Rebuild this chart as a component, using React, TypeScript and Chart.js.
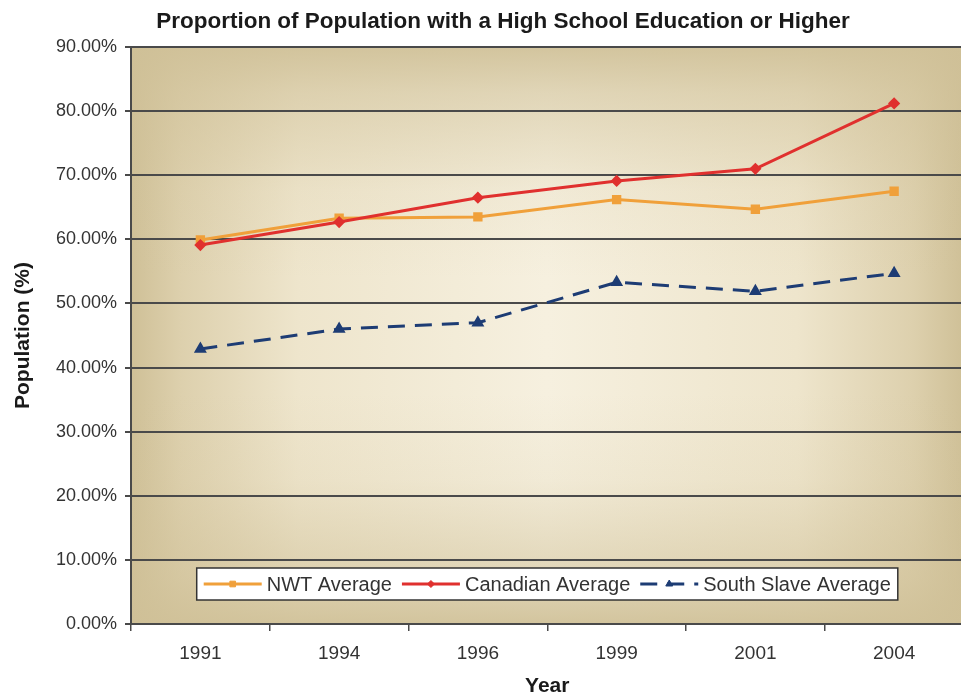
import React, { useEffect, useRef } from 'react';
import { Chart, registerables } from 'chart.js';
import { drawPoint } from 'chart.js/helpers';

Chart.register(...registerables);

// ---- data ----
const CHART_TITLE = 'Proportion of Population with a High School Education or Higher';
const Y_TITLE = 'Population (%)';
const X_TITLE = 'Year';

const years = ['1991', '1994', '1996', '1999', '2001', '2004'];
const nwtAverage = [59.9, 63.3, 63.5, 66.2, 64.7, 67.5];
const canadianAverage = [59.1, 62.7, 66.5, 69.1, 71.0, 81.2];
const southSlaveAverage = [42.9, 46.0, 47.0, 53.3, 51.9, 54.7];

const seriesLabels = ['NWT Average', 'Canadian Average', 'South Slave Average'];
const yMin = 0;
const yMax = 90;
const yStep = 10;

// ---- styling ----
const FONT = '"Liberation Sans", Arial, Helvetica, sans-serif';
const AXIS_COLOR = '#4a4a4a';
const TEXT_COLOR = '#333333';
const CANVAS_W = 971;
const CANVAS_H = 696;
const VIEW_W = 961;

// Plot area fill: light centre fading to tan towards every edge.
const plotBackground = {
  id: 'plotBackground',
  beforeDraw(chart: any) {
    const { ctx, chartArea } = chart;
    const { left, top, right, bottom } = chartArea;
    const w = right - left;
    const h = bottom - top;
    ctx.save();

    const gx = ctx.createLinearGradient(left, 0, right, 0);
    gx.addColorStop(0, '#cfc097');
    gx.addColorStop(0.06, '#ddd0ad');
    gx.addColorStop(0.2, '#eee5cc');
    gx.addColorStop(0.5, '#f6f0df');
    gx.addColorStop(0.8, '#eee5cc');
    gx.addColorStop(0.94, '#ddd0ad');
    gx.addColorStop(1, '#cfc097');
    ctx.fillStyle = gx;
    ctx.fillRect(left, top, w, h);

    const gy = ctx.createLinearGradient(0, top, 0, bottom);
    gy.addColorStop(0, 'rgba(207,192,151,0.9)');
    gy.addColorStop(0.08, 'rgba(207,192,151,0.55)');
    gy.addColorStop(0.25, 'rgba(207,192,151,0.12)');
    gy.addColorStop(0.4, 'rgba(207,192,151,0)');
    gy.addColorStop(0.6, 'rgba(207,192,151,0)');
    gy.addColorStop(0.75, 'rgba(207,192,151,0.12)');
    gy.addColorStop(0.92, 'rgba(207,192,151,0.55)');
    gy.addColorStop(1, 'rgba(207,192,151,0.9)');
    ctx.fillStyle = gy;
    ctx.fillRect(left, top, w, h);

    ctx.restore();
  },
};

// Chart heading, drawn in the top margin.
const headingPlugin = {
  id: 'heading',
  afterDraw(chart: any) {
    const { ctx } = chart;
    ctx.save();
    ctx.font = `bold 22.5px ${FONT}`;
    ctx.fillStyle = '#1a1a1a';
    ctx.textAlign = 'center';
    ctx.textBaseline = 'middle';
    ctx.fillText(CHART_TITLE, 503, 22);
    ctx.restore();
  },
};

// Boxed legend placed inside the bottom of the plot area.
const insideLegend = {
  id: 'insideLegend',
  afterDatasetsDraw(chart: any) {
    const { ctx, chartArea } = chart;
    const datasets = chart.data.datasets;
    ctx.save();
    ctx.font = `20px ${FONT}`;
    const sample = 58;
    const gapText = 5;
    const gapItem = 10;
    const pad = 7;
    const widths = datasets.map((ds: any) => ctx.measureText(ds.label).width);
    const width =
      pad * 2 +
      widths.reduce((s: number, w: number) => s + sample + gapText + w, 0) +
      gapItem * (datasets.length - 1);
    const height = 32;
    const x0 = (chartArea.left + chartArea.right) / 2 - width / 2;
    const y0 = chartArea.bottom - 24 - height;
    ctx.fillStyle = '#ffffff';
    ctx.fillRect(x0, y0, width, height);
    ctx.strokeStyle = '#333333';
    ctx.lineWidth = 1.5;
    ctx.strokeRect(x0, y0, width, height);

    let x = x0 + pad;
    const ym = y0 + height / 2;
    datasets.forEach((ds: any, i: number) => {
      ctx.save();
      ctx.strokeStyle = ds.borderColor;
      ctx.lineWidth = ds.borderWidth;
      ctx.setLineDash(ds.borderDash || []);
      ctx.beginPath();
      ctx.moveTo(x, ym);
      ctx.lineTo(x + sample, ym);
      ctx.stroke();
      ctx.restore();

      ctx.save();
      ctx.fillStyle = ds.pointBackgroundColor;
      ctx.strokeStyle = ds.pointBorderColor;
      ctx.lineWidth = 1;
      drawPoint(ctx, { pointStyle: ds.pointStyle, radius: ds.pointRadius - 0.5, borderWidth: 1, rotation: 0 }, x + sample / 2, ym);
      ctx.restore();

      ctx.fillStyle = TEXT_COLOR;
      ctx.textBaseline = 'middle';
      ctx.textAlign = 'left';
      ctx.fillText(ds.label, x + sample + gapText, ym + 1);
      x += sample + gapText + widths[i] + gapItem;
    });
    ctx.restore();
  },
};

export default function App() {
  const canvasRef = useRef<HTMLCanvasElement | null>(null);

  useEffect(() => {
    document.body.style.margin = '0';
    const canvas = canvasRef.current;
    if (!canvas) return;

    const chart = new Chart(canvas, {
      type: 'line',
      data: {
        labels: years,
        datasets: [
          {
            label: seriesLabels[0],
            data: nwtAverage,
            borderColor: '#f0a03a',
            backgroundColor: '#f0a03a',
            pointBackgroundColor: '#f0a03a',
            pointBorderColor: '#f0a03a',
            borderWidth: 3,
            pointStyle: 'rect',
            pointRadius: 4.5,
            tension: 0,
            order: 3,
          },
          {
            label: seriesLabels[1],
            data: canadianAverage,
            borderColor: '#e0302e',
            backgroundColor: '#e0302e',
            pointBackgroundColor: '#e0302e',
            pointBorderColor: '#e0302e',
            borderWidth: 3,
            pointStyle: 'rectRot',
            pointRadius: 4,
            tension: 0,
            order: 2,
          },
          {
            label: seriesLabels[2],
            data: southSlaveAverage,
            borderColor: '#1d3c74',
            backgroundColor: '#1d3c74',
            pointBackgroundColor: '#1d3c74',
            pointBorderColor: '#1d3c74',
            borderWidth: 3,
            borderDash: [17, 10],
            pointStyle: 'triangle',
            pointRadius: 4.5,
            tension: 0,
            order: 1,
          },
        ],
      },
      options: {
        animation: false,
        responsive: false,
        layout: { padding: { top: 47, left: 0, right: 0, bottom: 0 } },
        plugins: {
          legend: { display: false },
          title: { display: false },
          tooltip: { enabled: false },
        },
        scales: {
          x: {
            offset: true,
            grid: {
              offset: true,
              drawOnChartArea: false,
              drawTicks: true,
              tickLength: 7,
              color: AXIS_COLOR,
              lineWidth: 1.5,
            },
            border: { display: true, color: AXIS_COLOR, width: 2 },
            ticks: {
              color: TEXT_COLOR,
              font: { family: FONT, size: 19 },
              padding: 11,
              maxRotation: 0,
            },
            title: {
              display: true,
              text: X_TITLE,
              color: '#1a1a1a',
              font: { family: FONT, size: 21, weight: 'bold', lineHeight: 1 },
              padding: { top: 0, bottom: -1 },
            },
            afterFit(scale: any) {
              scale.height = 72;
            },
          },
          y: {
            min: yMin,
            max: yMax,
            grid: {
              color: AXIS_COLOR,
              lineWidth: 2,
              drawTicks: true,
              tickLength: 6,
            },
            border: { display: true, color: AXIS_COLOR, width: 2 },
            ticks: {
              stepSize: yStep,
              color: TEXT_COLOR,
              font: { family: FONT, size: 18 },
              padding: 8,
              callback: (v: any) => `${Number(v).toFixed(2)}%`,
            },
            title: {
              display: true,
              text: Y_TITLE,
              color: '#1a1a1a',
              font: { family: FONT, size: 21, weight: 'bold' },
              padding: { top: 11, bottom: 0 },
            },
            afterFit(scale: any) {
              scale.width = 131;
            },
          },
        },
      },
      plugins: [plotBackground, insideLegend, headingPlugin],
    });

    return () => chart.destroy();
  }, []);

  return (
    <div style={{ position: 'relative', width: VIEW_W, height: CANVAS_H, overflow: 'hidden', background: '#ffffff' }}>
      <canvas ref={canvasRef} width={CANVAS_W} height={CANVAS_H} style={{ display: 'block' }} />
    </div>
  );
}
